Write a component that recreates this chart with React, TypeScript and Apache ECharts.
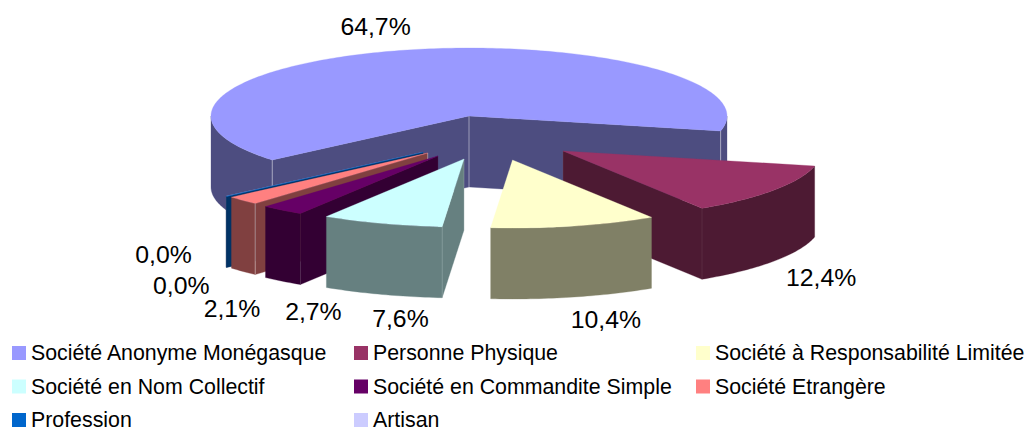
import React, { useEffect, useRef } from "react";
import * as echarts from "echarts";

const categories = [
  "Société Anonyme Monégasque",
  "Personne Physique",
  "Société à Responsabilité Limitée",
  "Société en Nom Collectif",
  "Société en Commandite Simple",
  "Société Etrangère",
  "Profession",
  "Artisan",
];
const shares = [64.7, 12.4, 10.4, 7.6, 2.7, 2.1, 0.04, 0.01];

const topColors = ["#9999FF", "#993366", "#FFFFCC", "#CCFFFF", "#660066", "#FF8080", "#0066CC", "#CCCCFF"];
const wallColors = ["#4D4D80", "#4D1A33", "#808066", "#668080", "#330033", "#804040", "#003366", "#666680"];
const edgeOpacity = [0.45, 0.08, 0.03, 0.15, 0.05, 0.4, 0, 0];
const explodeX = [0, 94, 43.5, -5, -31, -41.3, -46, -46];
const explodeY = [0, 35, 44, 43, 40, 37, 36.3, 36.3];
const labelDX = [-32, 47, 31.5, 18.5, 31, -11, -63, -45];
const labelDY = [-23, 87, 93, 95.5, 101, 108, 58, 89];
const drawOrder = [0, 1, 2, 7, 6, 5, 4, 3];
const legendLeft = [12, 354, 696];
const legendTop = [342.5, 376, 409.5];
const legendPerRow = 3;

const CX = 469;
const CY = 116;
const RX = 258;
const RY = 68;
const DEPTH = 71;
const START = 139.7;
const RAD = Math.PI / 180;
const FONT = '"Liberation Sans", Arial, sans-serif';

const total = shares.reduce((a, b) => a + b, 0);
const startAngles: number[] = [];
shares.reduce((acc, v, i) => {
  startAngles[i] = acc;
  return acc + (v / total) * 360;
}, START);

function makeSlice(i: number) {
  const value = shares[i];
  const t1 = startAngles[i];
  const t2 = t1 + (value / total) * 360;
  const ax = CX + explodeX[i];
  const ay = CY + explodeY[i];
  const pt = (t: number): [number, number] => [ax + RX * Math.cos(t * RAD), ay + RY * Math.sin(t * RAD)];
  const arc = (a: number, b: number) => {
    const n = Math.max(1, Math.ceil(Math.abs(b - a)));
    const out: [number, number][] = [];
    for (let k = 0; k <= n; k++) out.push(pt(a + ((b - a) * k) / n));
    return out;
  };
  const poly = (points: number[][], fill: string) => ({
    type: "polygon",
    shape: { points },
    style: { fill, stroke: fill, lineWidth: 0.3 },
  });
  const drop = (p: number[]) => [p[0], p[1] + DEPTH];
  const vline = (p: number[]) => ({
    type: "line",
    shape: { x1: p[0], y1: p[1], x2: p[0], y2: p[1] + DEPTH },
    style: { stroke: "#FFFFFF", opacity: edgeOpacity[i], lineWidth: 1 },
  });
  const children: any[] = [];
  const apex = [ax, ay];
  const showStart = Math.cos(t1 * RAD) < 0;
  const showEnd = Math.cos(t2 * RAD) > 0;
  if (showStart) {
    const c = pt(t1);
    children.push(poly([apex, c, drop(c), drop(apex)], wallColors[i]));
  }
  if (showEnd) {
    const c = pt(t2);
    children.push(poly([apex, c, drop(c), drop(apex)], wallColors[i]));
  }
  [
    [0, 180],
    [360, 540],
  ].forEach(([lo, hi]) => {
    const a = Math.max(t1, lo);
    const b = Math.min(t2, hi);
    if (b > a) {
      const top = arc(a, b);
      children.push(poly([...top, ...top.slice().reverse().map(drop)], wallColors[i]));
    }
  });
  children.push(poly([apex, ...arc(t1, t2)], topColors[i]));
  if (edgeOpacity[i] > 0) {
    if (showStart) children.push(vline(pt(t1)));
    if (showEnd) children.push(vline(pt(t2)));
    if (showStart || showEnd) children.push(vline(apex));
  }
  const mid = pt((t1 + t2) / 2);
  children.push({
    type: "text",
    style: {
      text: value.toFixed(1).replace(".", ",") + "%",
      x: mid[0] + labelDX[i],
      y: mid[1] + labelDY[i],
      align: "center",
      verticalAlign: "middle",
      fontSize: 24.8,
      fontFamily: FONT,
      fill: "#000000",
    },
  });
  return { type: "group", children };
}

export default function App() {
  const ref = useRef<HTMLDivElement>(null);
  useEffect(() => {
    if (!ref.current) return;
    const chart = echarts.init(ref.current, undefined, { renderer: "svg" });
    chart.setOption({
      animation: false,
      backgroundColor: "#FFFFFF",
      legend: categories.map((name, i) => ({
        orient: "horizontal",
        left: legendLeft[i % legendPerRow],
        top: legendTop[Math.floor(i / legendPerRow)],
        padding: 0,
        itemWidth: 14,
        itemHeight: 14,
        selectedMode: false,
        icon: "rect",
        data: [name],
        textStyle: { fontSize: 21.33, fontFamily: FONT, color: "#000000" },
      })),
      series: drawOrder.map((i, order) => ({
        type: "custom",
        name: categories[i],
        coordinateSystem: "none",
        z: 2 + order,
        silent: true,
        itemStyle: { color: topColors[i] },
        data: [[shares[i]]],
        renderItem: () => makeSlice(i),
      })),
    });
    return () => chart.dispose();
  }, []);
  return (
    <div
      ref={ref}
      style={{ position: "fixed", left: 0, top: 0, width: 1027, height: 427, overflow: "hidden" }}
    />
  );
}
